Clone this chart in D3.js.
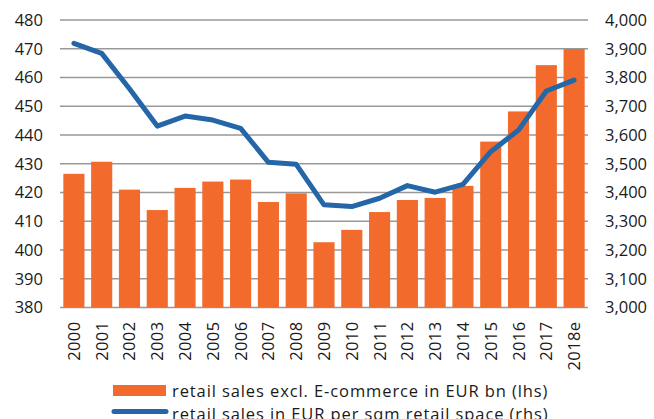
<!DOCTYPE html>
<meta charset="utf-8">
<style>
    body {
        margin: 0;
        background-color: #ffffff;
    }

    text {
        font-family: "Open Sans", "Noto Sans", sans-serif;
        fill: #1a1a1a;
    }

    .grid line {
        stroke: #999999;
        stroke-width: 1.6px;
    }
</style>
<svg width="654" height="419"></svg>

<script src="https://d3js.org/d3.v7.min.js"></script>
<script>
    let years = ["2000", "2001", "2002", "2003", "2004", "2005", "2006", "2007", "2008", "2009",
        "2010", "2011", "2012", "2013", "2014", "2015", "2016", "2017", "2018e"];

    // retail sales excl. e-commerce, EUR bn (left axis)
    let salesBn = [426.5, 430.7, 421.0, 413.9, 421.6, 423.8, 424.5, 416.7, 419.7, 402.7,
        407.0, 413.2, 417.4, 418.1, 422.3, 437.7, 448.2, 464.3, 469.9];

    // retail sales per sqm retail space, EUR (right axis)
    let perSqm = [3919, 3884, 3761, 3631, 3666, 3652, 3623, 3505, 3498, 3357,
        3351, 3380, 3424, 3401, 3428, 3542, 3617, 3753, 3791];

    let leftTicks = [380, 390, 400, 410, 420, 430, 440, 450, 460, 470, 480];
    let rightTicks = [3000, 3100, 3200, 3300, 3400, 3500, 3600, 3700, 3800, 3900, 4000];

    let legendLabels = ["retail sales excl. E-commerce in EUR bn (lhs)",
        "retail sales in EUR per sqm retail space (rhs)"];

    let svg = d3.select("svg");
    let plotL = 60, plotR = 588, plotT = 20, plotB = 307.5;
    let fs = "16.5px";

    let x = d3.scaleBand().domain(years).range([plotL, plotR]).paddingInner(0.24).paddingOuter(0.12);
    let yL = d3.scaleLinear().domain([380, 480]).range([plotB, plotT]);
    let yR = d3.scaleLinear().domain([3000, 4000]).range([plotB, plotT]);

    // gridlines
    svg.append("g")
            .attr("class", "grid")
            .selectAll("line")
            .data(leftTicks)
            .enter().append("line")
            .attr("x1", plotL)
            .attr("x2", plotR)
            .attr("y1", (d) => yL(d))
            .attr("y2", (d) => yL(d));

    // bars
    svg.append("g")
            .selectAll("rect")
            .data(years)
            .enter().append("rect")
            .attr("x", (d) => x(d))
            .attr("width", x.bandwidth())
            .attr("y", (d, i) => yL(salesBn[i]))
            .attr("height", (d, i) => plotB - yL(salesBn[i]))
            .attr("fill", "#f26b2c");

    // line
    let line = d3.line()
            .x((d, i) => x(years[i]) + x.bandwidth() / 2)
            .y((d) => yR(d));

    svg.append("path")
            .datum(perSqm)
            .attr("d", line)
            .attr("fill", "none")
            .attr("stroke", "#2566a9")
            .attr("stroke-width", 5)
            .attr("stroke-linejoin", "round")
            .attr("stroke-linecap", "round");

    // left axis
    let axL = svg.append("g")
            .attr("transform", "translate(" + (plotL - 17) + ",0)")
            .call(d3.axisLeft(yL).tickValues(leftTicks).tickSize(0).tickPadding(0));
    axL.select(".domain").remove();
    axL.selectAll("text").style("font-size", fs).attr("fill", "#1a1a1a");

    // right axis
    let axR = svg.append("g")
            .attr("transform", "translate(" + (plotR + 17) + ",0)")
            .call(d3.axisRight(yR).tickValues(rightTicks).tickSize(0).tickPadding(0)
                    .tickFormat(d3.format(",")));
    axR.select(".domain").remove();
    axR.selectAll("text").style("font-size", fs).attr("fill", "#1a1a1a");

    // x axis labels, rotated
    svg.append("g")
            .selectAll("text")
            .data(years)
            .enter().append("text")
            .attr("transform", (d) => "translate(" + (x(d) + x.bandwidth() / 2 + 6) + "," + (plotB + 14) + ") rotate(-90)")
            .attr("text-anchor", "end")
            .style("font-size", fs)
            .style("letter-spacing", "0.4px")
            .text((d) => d);

    // legend
    let lg = svg.append("g");
    lg.append("rect")
            .attr("x", 113)
            .attr("y", 385)
            .attr("width", 53)
            .attr("height", 11)
            .attr("fill", "#f26b2c");
    lg.append("line")
            .attr("x1", 114)
            .attr("x2", 166)
            .attr("y1", 411.5)
            .attr("y2", 411.5)
            .attr("stroke", "#2566a9")
            .attr("stroke-width", 5)
            .attr("stroke-linecap", "round");
    lg.selectAll("text.leg")
            .data(legendLabels)
            .enter().append("text")
            .attr("class", "leg")
            .attr("x", 172)
            .attr("y", (d, i) => 396.5 + i * 23)
            .style("font-size", fs)
            .style("letter-spacing", "0.9px")
            .text((d) => d);
</script>
